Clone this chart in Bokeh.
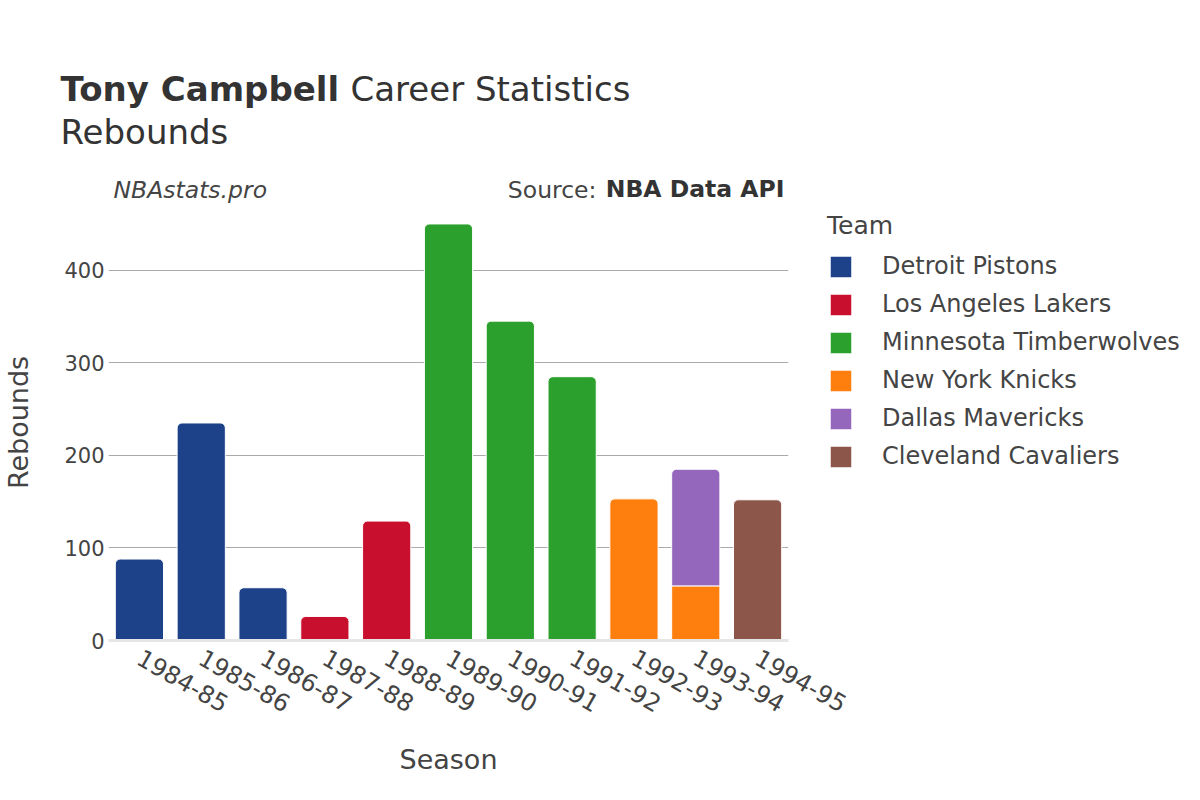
from bokeh.plotting import figure
from bokeh.models import (ColumnDataSource, FactorRange, Range1d, Label, Legend, LegendItem,
                          FixedTicker)
from bokeh.embed import file_html
from bokeh.resources import INLINE

seasons = ["1984-85", "1985-86", "1986-87", "1987-88", "1988-89", "1989-90",
           "1990-91", "1991-92", "1992-93", "1993-94", "1994-95"]
teams = ["Detroit Pistons", "Los Angeles Lakers", "Minnesota Timberwolves",
         "New York Knicks", "Dallas Mavericks", "Cleveland Cavaliers"]
colors = ["#1d428a", "#c8102e", "#2ca02c", "#ff7f0e", "#9467bd", "#8c564b"]

detroit = [88, 235, 57, 0, 0, 0, 0, 0, 0, 0, 0]
lakers = [0, 0, 0, 26, 129, 0, 0, 0, 0, 0, 0]
minnesota = [0, 0, 0, 0, 0, 450, 345, 285, 0, 0, 0]
knicks = [0, 0, 0, 0, 0, 0, 0, 0, 153, 59, 0]
dallas = [0, 0, 0, 0, 0, 0, 0, 0, 0, 126, 0]
cleveland = [0, 0, 0, 0, 0, 0, 0, 0, 0, 0, 152]
series = [detroit, lakers, minnesota, knicks, dallas, cleveland]
y_ticks = [0, 100, 200, 300, 400]

FONT = "DejaVu Sans"
TXT = "#444444"
DARK = "#333333"
FRAME_L, FRAME_T, FRAME_B = 108, 204, 640

p = figure(frame_width=680, frame_height=FRAME_B - FRAME_T,
           x_range=FactorRange(*seasons, range_padding=0),
           y_range=Range1d(0, 471), output_backend="svg", toolbar_location=None,
           min_border_left=FRAME_L, min_border_right=404, min_border_top=FRAME_T,
           min_border_bottom=152)
p.outline_line_color = None
p.background_fill_color = "white"
p.border_fill_color = "white"

top_idx = []
for i in range(len(seasons)):
    last = -1
    for t in range(len(teams)):
        if series[t][i] > 0:
            last = t
    top_idx.append(last)

legend_items = []
bottoms = [0] * len(seasons)
for t, team in enumerate(teams):
    rnd = dict(x=[], b=[], tp=[])
    sq = dict(x=[], b=[], tp=[])
    for i, s in enumerate(seasons):
        v = series[t][i]
        if v <= 0:
            continue
        d = rnd if top_idx[i] == t else sq
        d["x"].append(s)
        d["b"].append(bottoms[i])
        d["tp"].append(bottoms[i] + v)
        bottoms[i] += v
    rends = []
    if rnd["x"]:
        rends.append(p.vbar(x="x", bottom="b", top="tp", width=0.78, source=ColumnDataSource(rnd),
                            fill_color=colors[t], line_color="white", line_width=1,
                            border_radius=(5, 5, 0, 0)))
    if sq["x"]:
        rends.append(p.vbar(x="x", bottom="b", top="tp", width=0.78, source=ColumnDataSource(sq),
                            fill_color=colors[t], line_color="white", line_width=1))
    legend_items.append(LegendItem(label=team, renderers=[rends[0]]))

p.yaxis.ticker = FixedTicker(ticks=y_ticks)
p.ygrid.ticker = FixedTicker(ticks=y_ticks[1:])
p.ygrid.grid_line_color = "#aaaaaa"
p.xgrid.grid_line_color = None
p.yaxis.axis_line_color = None
p.yaxis.major_tick_line_color = None
p.yaxis.minor_tick_line_color = None
p.yaxis.major_tick_out = 0
p.yaxis.minor_tick_out = 0
p.yaxis.major_label_text_font = FONT
p.yaxis.major_label_text_font_size = "21px"
p.yaxis.major_label_text_color = TXT
p.yaxis.major_label_standoff = 4
p.yaxis.axis_label = "Rebounds"
p.yaxis.axis_label_text_font = FONT
p.yaxis.axis_label_text_font_size = "27px"
p.yaxis.axis_label_text_font_style = "normal"
p.yaxis.axis_label_text_color = TXT
p.yaxis.axis_label_standoff = 27

p.xaxis.axis_line_color = "#e6e6e6"
p.xaxis.axis_line_width = 3
p.xaxis.major_tick_line_color = None
p.xaxis.minor_tick_line_color = None
p.xaxis.major_tick_out = 0
p.xaxis.minor_tick_out = 0
p.xaxis.major_label_orientation = -0.52
p.xaxis.major_label_text_font = FONT
p.xaxis.major_label_text_font_size = "24px"
p.xaxis.major_label_text_color = TXT
p.xaxis.major_label_standoff = 15
p.xaxis.axis_label = "Season"
p.xaxis.axis_label_text_font = FONT
p.xaxis.axis_label_text_font_size = "27px"
p.xaxis.axis_label_text_font_style = "normal"
p.xaxis.axis_label_text_color = TXT
p.xaxis.axis_label_standoff = 20

# Header texts: each label in the "above" panel occupies a row whose height is
# its text height; rows stack upward from the top of the frame.
K = 1.18
SHIFT = 9.5
row_bottom = [FRAME_T]


def head(text, px, baseline_py, size, style="normal", align="left", color=DARK):
    rb = row_bottom[0]
    p.add_layout(Label(x=px - FRAME_L, y=rb - baseline_py + SHIFT, x_units="screen",
                       y_units="screen", text=text, text_font=FONT,
                       text_font_size=f"{size}px", text_font_style=style, text_align=align,
                       text_baseline="alphabetic", text_color=color), "above")
    row_bottom[0] = rb - K * size


head("NBAstats.pro", 113, 199, 23.5, "italic", color=TXT)
head("Source:", 596, 199, 23.5, align="right", color=TXT)
head("NBA Data API", 784, 199, 23.5, "bold", align="right")
head("Rebounds", 60, 142, 34)
head("Career Statistics", 350, 99, 34)
head("Tony Campbell", 60, 99, 34, "bold")

legend = Legend(items=legend_items, location=(39, 170))
legend.title = "Team"
legend.title_text_font = FONT
legend.title_text_font_size = "25px"
legend.title_text_font_style = "normal"
legend.title_text_color = TXT
legend.title_standoff = 12
legend.label_text_font = FONT
legend.label_text_font_size = "24px"
legend.label_text_color = TXT
legend.glyph_width = 27
legend.glyph_height = 27
legend.label_height = 28
legend.spacing = 10
legend.label_standoff = 28
legend.padding = 0
legend.margin = 0
legend.background_fill_alpha = 0
legend.border_line_color = None
p.add_layout(legend, "right")

open("out.html", "w").write(file_html(p, INLINE))
